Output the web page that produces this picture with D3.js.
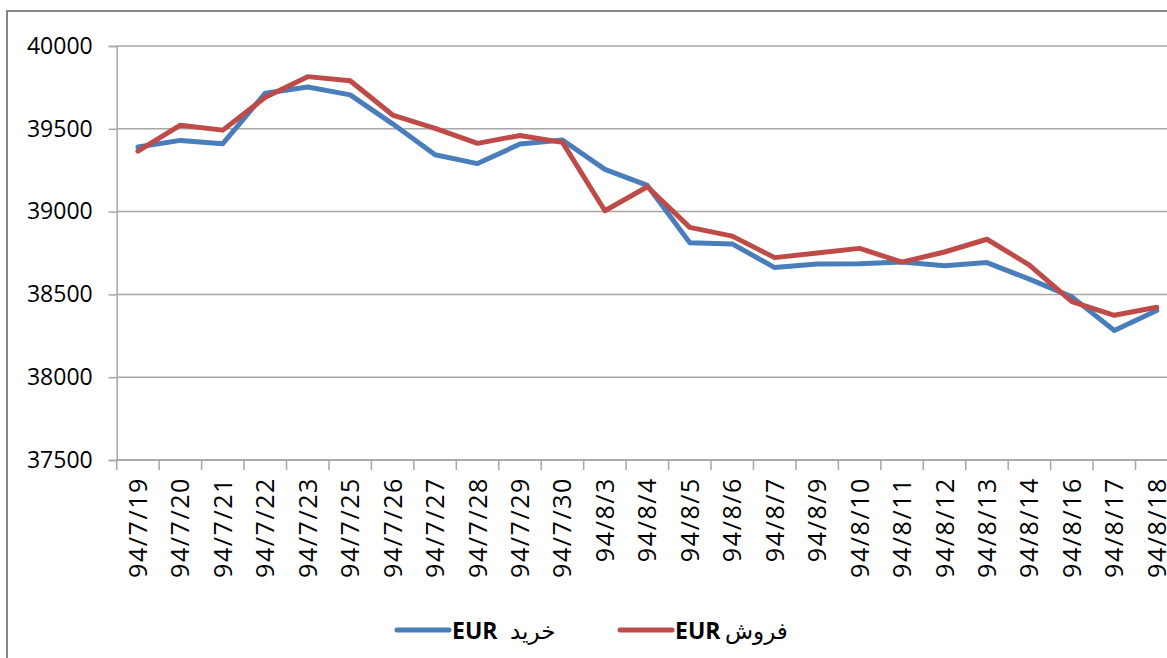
<!DOCTYPE html>
<html>
<head>
<meta charset="utf-8">
<script src="https://d3js.org/d3.v7.min.js"></script>
<style>
  body { margin: 0; background: #fff; overflow: hidden; }
  svg { display: block; }
  text { font-family: "Open Sans", "DejaVu Sans", sans-serif; fill: #000; }
</style>
</head>
<body>
<div id="chart"></div>
<script>
const categories = ["94/7/19", "94/7/20", "94/7/21", "94/7/22", "94/7/23", "94/7/25", "94/7/26",
  "94/7/27", "94/7/28", "94/7/29", "94/7/30", "94/8/3", "94/8/4", "94/8/5", "94/8/6", "94/8/7",
  "94/8/9", "94/8/10", "94/8/11", "94/8/12", "94/8/13", "94/8/14", "94/8/16", "94/8/17", "94/8/18"];
// buy (kharid) EUR
const buyValues = [39390, 39430, 39410, 39715, 39752, 39705, 39530, 39343, 39290, 39408, 39432,
  39255, 39158, 38812, 38805, 38662, 38684, 38685, 38695, 38673, 38692, 38592, 38485, 38282, 38403];
// sell (forush) EUR
const sellValues = [39365, 39522, 39492, 39690, 39815, 39790, 39583, 39503, 39412, 39460, 39418,
  39005, 39150, 38905, 38852, 38722, 38750, 38778, 38695, 38756, 38833, 38677, 38456, 38374, 38422];
const yTicks = [37500, 38000, 38500, 39000, 39500, 40000];
const seriesNames = ["خرید", "فروش"];

const W = 1167, H = 658;
const plot = { left: 116.7, right: 1178, top: 46, bottom: 460 };

const svg = d3.select("#chart").append("svg")
  .attr("width", W)
  .attr("height", H);

// chart border (runs off right / bottom edge)
svg.append("rect")
  .attr("x", 7).attr("y", 11)
  .attr("width", 1300).attr("height", 700)
  .attr("fill", "none")
  .attr("stroke", "#878787")
  .attr("stroke-width", 2);

const x = d3.scaleBand().domain(categories).range([plot.left, plot.right]).padding(0);
const y = d3.scaleLinear().domain([37500, 40000]).range([plot.bottom, plot.top]);
const cx = c => x(c) + x.bandwidth() / 2;

// gridlines
svg.append("g")
  .selectAll("line")
  .data(yTicks)
  .join("line")
  .attr("x1", plot.left).attr("x2", plot.right)
  .attr("y1", d => y(d)).attr("y2", d => y(d))
  .attr("stroke", "#a6a6a6")
  .attr("stroke-width", 1.5);

// y axis
const yAxis = svg.append("g")
  .attr("transform", `translate(${plot.left},0)`)
  .call(d3.axisLeft(y).tickValues(yTicks).tickSize(8).tickPadding(16).tickFormat(d3.format("d")));
yAxis.select(".domain").attr("stroke", "#a6a6a6").attr("stroke-width", 1.5);
yAxis.selectAll(".tick line").attr("stroke", "#a6a6a6").attr("stroke-width", 1.5);
yAxis.selectAll(".tick text")
  .style("font-size", "23px")
  .style("font-family", "'Open Sans', sans-serif")
  .attr("fill", "#222");

// x axis: ticks on band edges, labels rotated
const xg = svg.append("g").attr("transform", `translate(0,${plot.bottom})`);
xg.selectAll("line.edge")
  .data(categories.map(c => x(c)).concat([plot.right]))
  .join("line")
  .classed("edge", true)
  .attr("x1", d => d).attr("x2", d => d)
  .attr("y1", 0).attr("y2", 10)
  .attr("stroke", "#a6a6a6")
  .attr("stroke-width", 1.5);
xg.append("line")
  .attr("x1", plot.left).attr("x2", plot.right)
  .attr("stroke", "#a6a6a6")
  .attr("stroke-width", 1.5);
xg.selectAll("text")
  .data(categories)
  .join("text")
  .attr("transform", d => `translate(${cx(d)},0) rotate(-90)`)
  .attr("x", -17)
  .attr("dy", "0.36em")
  .attr("text-anchor", "end")
  .style("font-size", "25px")
  .style("letter-spacing", "1.6px")
  .attr("fill", "#222")
  .text(d => d);

// lines
const line = d3.line()
  .x((d, i) => cx(categories[i]))
  .y(d => y(d));

const series = [
  { values: buyValues, color: "#4a7ebb" },
  { values: sellValues, color: "#be4b48" }
];
svg.append("g")
  .selectAll("path")
  .data(series)
  .join("path")
  .attr("d", d => line(d.values))
  .attr("fill", "none")
  .attr("stroke", d => d.color)
  .attr("stroke-width", 5)
  .attr("stroke-linejoin", "round")
  .attr("stroke-linecap", "round");

// legend
const legend = [
  { x: 397, color: "#4a7ebb", name: seriesNames[0], nameX: 510 },
  { x: 620, color: "#be4b48", name: seriesNames[1], nameX: 725 }
];
const lg = svg.append("g").selectAll("g").data(legend).join("g");
lg.append("line")
  .attr("x1", d => d.x).attr("x2", d => d.x + 52)
  .attr("y1", 630).attr("y2", 630)
  .attr("stroke", d => d.color)
  .attr("stroke-width", 5)
  .attr("stroke-linecap", "round");
lg.append("text")
  .attr("x", d => d.x + 55)
  .attr("y", 639)
  .style("font-size", "23px")
  .style("font-weight", "bold")
  .text("EUR");
lg.append("text")
  .attr("x", d => d.nameX)
  .attr("y", 639)
  .attr("direction", "rtl")
  .attr("text-anchor", "end")
  .style("font-size", "23px")
  .text(d => d.name);
</script>
</body>
</html>
